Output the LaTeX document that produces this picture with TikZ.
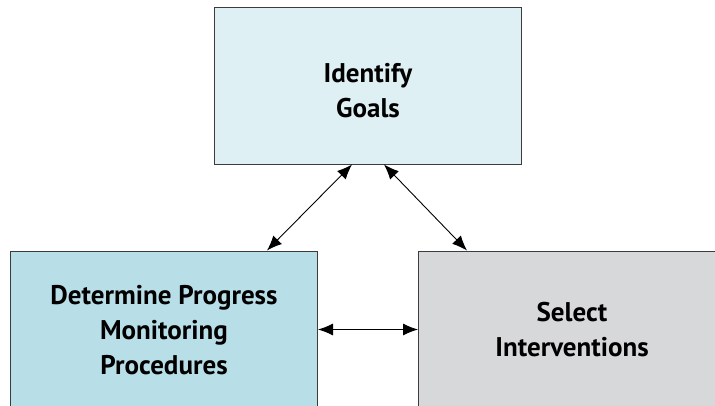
\documentclass[tikz,border=0pt]{standalone}
\usepackage{fontspec}
\setmainfont{PT Sans}
\usetikzlibrary{arrows.meta,calc}
\definecolor{topfill}{RGB}{223,240,245}
\definecolor{leftfill}{RGB}{184,222,232}
\definecolor{rightfill}{RGB}{215,216,218}
\definecolor{edge}{RGB}{60,60,60}
\begin{document}
\begin{tikzpicture}[x=1pt,y=-1pt,
  box/.style={draw=edge,line width=1pt,minimum width=307pt,minimum height=157pt,inner sep=0pt},
  boxtext/.style={inner sep=0pt,align=center,font=\fontsize{27}{35}\selectfont\bfseries,text=black},
  link/.style={line width=0.9pt,{Latex[length=15pt,width=12pt]}-{Latex[length=15pt,width=12pt]}}]
\useasboundingbox (0,0) rectangle (715,405);
\begin{scope}
\clip (0,0) rectangle (715,405);
\node[box,fill=topfill] (goals) at (368,85.5) {};
\node[box,fill=leftfill] (monitor) at (164,329.5) {};
\node[box,fill=rightfill] (select) at (572,329.5) {};
\end{scope}
\node[boxtext] (goalsT) at ($(goals.center)+(0,5)$) {Identify\\Goals};
\node[boxtext] (monitorT) at ($(monitor.center)+(0,1)$) {Determine Progress\\Monitoring\\Procedures};
\node[boxtext] (selectT) at (select.center) {Select\\Interventions};
\draw[link] ($(goals.south west)+(138,0)$) -- ($(monitor.north west)+(257,0)$);
\draw[link] ($(goals.south west)+(170,0)$) -- ($(select.north west)+(49,0)$);
\draw[link] (monitor.east) -- (select.west);
\end{tikzpicture}
\end{document}
